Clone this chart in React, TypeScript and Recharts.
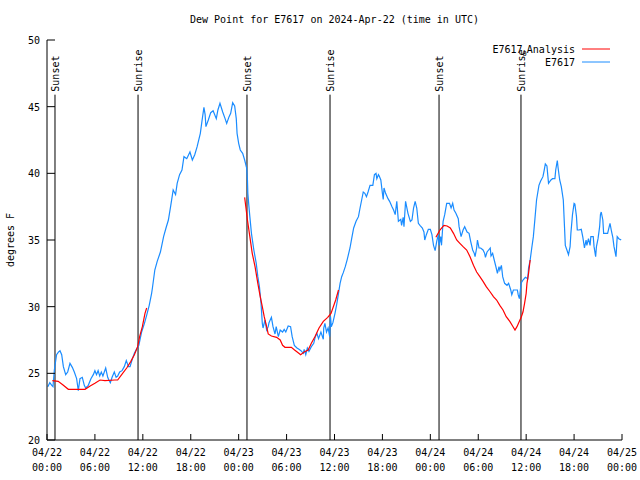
import { Legend, Line, LineChart, ReferenceLine, XAxis, YAxis } from "recharts";

// hours since 2024-04-22 00:00 UTC
const obsHours = [
  0.1, 0.35, 0.6, 0.75, 0.92, 1.2, 1.45, 1.63, 1.84, 2.05, 2.34, 2.59, 2.88, 3.17, 3.42, 3.71, 3.92, 4.13,
  4.42, 4.67, 4.84, 5.17, 5.5, 5.8, 6.0, 6.2, 6.4, 6.6, 6.8, 7.0, 7.35, 7.6, 7.75, 7.93, 8.15, 8.43, 8.65,
  8.85, 9.1, 9.4, 9.68, 9.93, 10.2, 10.4, 10.7, 10.94, 11.2, 11.5, 11.85, 12.2, 12.5, 12.8, 13.1, 13.2,
  13.5, 13.8, 14.2, 14.6, 14.9, 15.2, 15.5, 15.8, 16.1, 16.3, 16.6, 16.9, 17.15, 17.5, 17.9, 18.2, 18.5,
  18.8, 19.2, 19.4, 19.65, 19.8, 19.9, 20.2, 20.5, 20.8, 21.2, 21.4, 21.66, 22.0, 22.3, 22.5, 22.8, 23.0,
  23.25, 23.5, 23.7, 23.8, 24.0, 24.2, 24.5, 24.75, 25.0, 25.1, 25.15, 25.25, 25.4, 25.6, 25.9, 26.2,
  26.4, 26.6, 26.8, 26.96, 27.05, 27.3, 27.5, 27.7, 27.8, 28.1, 28.3, 28.55, 28.7, 28.97, 29.2, 29.5,
  29.7, 29.9, 30.2, 30.5, 30.7, 30.97, 31.3, 31.55, 31.8, 32.1, 32.2, 32.4, 32.6, 32.8, 33.1, 33.4,
  33.6, 33.8, 34.0, 34.3, 34.6, 34.65, 34.8, 35.0, 35.2, 35.4, 35.5, 35.6, 35.8, 36.06, 36.3, 36.5,
  36.7, 36.9, 37.1, 37.35, 37.6, 37.94, 38.15, 38.4, 38.7, 39.0, 39.2, 39.4, 39.6, 39.8, 40.0, 40.2,
  40.45, 40.8, 41.0, 41.2, 41.3, 41.5, 41.6, 41.8, 42.0, 42.1, 42.2, 42.4, 42.7, 42.9, 43.2, 43.4, 43.6,
  43.8, 44.0, 44.3, 44.4, 44.6, 44.7, 44.9, 45.0, 45.2, 45.5, 45.7, 45.9, 46.1, 46.3, 46.5, 46.7, 47.0,
  47.2, 47.3, 47.5, 47.75, 48.0, 48.2, 48.4, 48.6, 48.8, 49.0, 49.1, 49.3, 49.4, 49.6, 49.8, 50.05,
  50.4, 50.6, 50.8, 50.97, 51.2, 51.5, 51.6, 51.85, 52.1, 52.3, 52.6, 52.85, 53.05, 53.3, 53.5, 53.6,
  53.8, 53.9, 54.1, 54.3, 54.6, 54.8, 54.9, 55.1, 55.3, 55.5, 55.6, 55.8, 56.0, 56.25, 56.4, 56.6, 56.7,
  56.9, 57.06, 57.3, 57.6, 57.8, 58.07, 58.2, 58.4, 58.6, 58.9, 59.0, 59.15, 59.3, 59.4, 59.6, 59.9,
  60.2, 60.3, 60.5, 60.7, 60.9, 61.1, 61.3, 61.6, 61.8, 62.1, 62.25, 62.4, 62.6, 62.8, 63.1, 63.3, 63.6,
  63.7, 63.9, 64.0, 64.2, 64.4, 64.65, 64.8, 64.9, 65.1, 65.3, 65.5, 65.6, 65.8, 66.0, 66.1, 66.3, 66.4,
  66.6, 66.9, 67.1, 67.3, 67.5, 67.6, 67.8, 68.0, 68.1, 68.4, 68.5, 68.7, 68.8, 69.0, 69.2, 69.3, 69.4,
  69.6, 69.7, 70.0, 70.2, 70.4, 70.5, 70.7, 70.85, 71.0, 71.25, 71.4, 71.6, 71.9,
];
const obsDewPoint = [
  24.0, 24.3, 24.1, 24.0, 25.25, 26.4, 26.6, 26.7, 26.4, 25.5, 24.9, 25.1, 25.75, 25.45, 25.1, 24.6, 23.7, 24.6,
  24.7, 24.1, 23.9, 24.1, 24.6, 24.9, 25.2, 24.9, 25.2, 24.8, 25.1, 24.8, 25.4, 24.7, 24.5, 24.3, 24.7, 25.1, 24.7,
  24.8, 25.1, 25.2, 25.5, 25.95, 25.5, 25.5, 26.1, 26.5, 26.8, 27.1, 28.1, 28.75, 29.4, 30.1, 31.0, 31.4,
  32.75, 33.4, 34.1, 35.25, 35.9, 36.5, 37.6, 38.75, 38.4, 39.25, 39.9, 40.25, 41.25, 41.1, 41.6, 41.0, 41.4,
  42.0, 43.0, 43.9, 44.95, 44.4, 43.5, 44.0, 44.55, 44.7, 44.1, 44.75, 45.25, 44.6, 44.1, 43.75, 44.25, 44.5,
  45.3, 45.05, 44.1, 43.0, 42.25, 41.75, 41.5, 41.0, 40.4, 39.5, 38.5, 37.75, 36.75, 35.5, 34.25, 33.25,
  32.25, 31.5, 30.25, 28.75, 28.4, 29.0, 28.25, 28.5, 28.8, 29.2, 28.5, 27.95, 28.5, 27.75, 28.25, 28.1,
  28.3, 28.1, 28.55, 28.5, 27.75, 27.1, 26.9, 26.8, 26.7, 26.5, 26.8, 26.4, 26.9, 26.65, 27.0, 27.25,
  27.75, 28.0, 27.6, 28.1, 27.55, 28.4, 28.75, 28.1, 28.4, 27.75, 29.25, 28.5, 28.8, 29.5, 30.25, 31.0,
  31.75, 32.25, 32.55, 33.0, 33.55, 34.4, 35.1, 35.9, 36.4, 36.75, 37.4, 38.0, 38.6, 38.5, 38.25, 38.6,
  39.1, 39.1, 39.9, 40.0, 39.6, 39.9, 39.8, 39.5, 38.5, 38.05, 38.9, 38.5, 38.1, 37.9, 37.5, 37.25, 36.9,
  37.9, 36.4, 36.55, 36.1, 36.7, 36.0, 37.9, 37.6, 37.0, 36.4, 36.5, 37.4, 37.9, 37.4, 36.25, 36.1, 35.9,
  35.6, 35.0, 35.4, 35.8, 35.8, 35.4, 34.6, 34.2, 34.9, 35.4, 34.6, 35.25, 34.6, 36.4, 36.9, 37.75,
  37.75, 37.4, 37.75, 37.25, 37.0, 36.6, 36.0, 35.25, 35.75, 36.0, 35.6, 35.5, 34.9, 34.25, 34.0, 33.75,
  34.4, 35.0, 34.4, 34.4, 34.25, 34.0, 33.7, 34.1, 34.25, 34.4, 33.8, 34.0, 33.5, 32.9, 32.5, 33.0, 32.75,
  33.1, 32.25, 31.75, 31.6, 31.75, 31.25, 30.9, 31.25, 31.25, 31.25, 30.9, 30.6, 31.4, 31.8, 32.0, 32.2,
  32.1, 32.9, 33.5, 34.4, 35.25, 36.6, 38.0, 39.1, 39.4, 39.75, 40.2, 40.7, 40.55, 39.25, 39.5, 39.6, 39.6,
  40.25, 40.95, 40.4, 39.5, 39.0, 38.0, 36.0, 34.6, 34.25, 33.9, 34.5, 35.5, 36.9, 37.75, 37.7, 36.75, 35.75,
  35.75, 35.8, 35.2, 34.4, 35.0, 34.6, 35.1, 34.6, 35.25, 35.25, 34.5, 33.75, 34.5, 35.1, 36.0, 36.9, 37.1,
  36.5, 35.5, 35.5, 35.5, 36.0, 36.25, 35.6, 35.2, 34.5, 33.75, 35.25, 35.1, 35.0,
];

const anaHours = [
  0.67, 1.4, 2.05, 2.67, 4.76, 5.4, 6.0, 6.64, 7.26, 8.5, 8.85, 9.35, 9.98, 10.5, 10.94, 11.35, 11.6,
  11.94, 12.27, 12.48, 18,
  24.75, 25.1, 25.4, 25.7, 26.05, 26.4, 26.7, 26.96, 27.2, 27.5, 27.7, 28.1, 28.75, 29.2, 29.5, 29.8,
  30.6, 31.0, 31.45, 31.76, 32.2, 32.7, 33.1, 33.55, 34.06, 34.6, 35.15, 35.56, 35.8, 36.15, 36.5, 42,
  48.7, 49.2, 49.7, 50.1, 50.5, 50.9, 51.3, 51.7, 52.1, 52.55, 52.97, 53.4, 53.8, 54.2, 54.6, 55.0, 55.5,
  55.9, 56.3, 56.7, 57.1, 57.5, 57.95, 58.3, 58.6, 58.85, 59.15, 59.4, 59.6, 59.8, 60.0, 60.1, 60.3, 60.5,
];
const anaDewPoint = [
  24.45, 24.4, 24.1, 23.8, 23.8, 24.05, 24.25, 24.5, 24.45, 24.5, 24.5, 24.9, 25.4, 25.9, 26.4, 27.0, 27.75,
  28.5, 29.5, 29.9, null,
  38.2, 36.5, 35.25, 34.0, 33.0, 31.75, 30.75, 30.0, 29.25, 28.5, 27.95, 27.8, 27.7, 27.5, 27.1, 26.95,
  26.95, 26.75, 26.55, 26.4, 26.6, 26.75, 27.25, 27.75, 28.4, 28.9, 29.2, 29.5, 29.9, 30.5, 31.25, null,
  35.2, 35.75, 36.1, 36.05, 35.9, 35.5, 35.0, 34.75, 34.5, 34.25, 33.75, 33.1, 32.6, 32.25, 31.9, 31.5, 31.1,
  30.75, 30.5, 30.1, 29.75, 29.25, 28.9, 28.55, 28.25, 28.5, 28.9, 29.25, 29.6, 30.25, 31.0, 31.75, 32.5, 33.5,
];

const sunHours = [1.0, 11.4, 25.04, 35.44, 49.09, 59.35];
const sunLabels = ["Sunset", "Sunrise", "Sunset", "Sunrise", "Sunset", "Sunrise"];

const xTicks = [0, 6, 12, 18, 24, 30, 36, 42, 48, 54, 60, 66, 72];
const xDateLabels = ["04/22", "04/22", "04/22", "04/22", "04/23", "04/23", "04/23", "04/23", "04/24", "04/24", "04/24", "04/24", "04/25"];
const xTimeLabels = ["00:00", "06:00", "12:00", "18:00", "00:00", "06:00", "12:00", "18:00", "00:00", "06:00", "12:00", "18:00", "00:00"];
const yTicks = [20, 25, 30, 35, 40, 45, 50];

const observed = obsHours.map((h, i) => ({ h, dew: obsDewPoint[i] }));
const analysis = anaHours.map((h, i) => ({ h, dew: anaDewPoint[i] }));

const FONT = '"DejaVu Sans Mono", "Liberation Mono", monospace';
const RED = "#ff0000";
const BLUE = "#1a8cff";
const SUN_LINE_TOP = 45.9;

function XTick(props: any) {
  const { x, y, payload } = props;
  const i = xTicks.indexOf(payload.value);
  return (
    <g fontFamily={FONT} fontSize={10} fill="#000">
      <text x={x} y={y + 16} textAnchor="middle">{xDateLabels[i]}</text>
      <text x={x} y={y + 31} textAnchor="middle">{xTimeLabels[i]}</text>
    </g>
  );
}

function YTick(props: any) {
  const { x, y, payload } = props;
  return (
    <text x={x} y={y + 4} textAnchor="end" fontFamily={FONT} fontSize={10} fill="#000">
      {payload.value}
    </text>
  );
}

function SunLabel(props: any) {
  const { viewBox, text } = props;
  if (!viewBox) return null;
  const x = viewBox.x + 4;
  const y = viewBox.y - 3;
  return (
    <text x={x} y={y} transform={`rotate(-90 ${x} ${y})`} fontFamily={FONT} fontSize={10} fill="#000">
      {text}
    </text>
  );
}

function YLabel(props: any) {
  const { viewBox } = props;
  const cy = viewBox ? viewBox.y + viewBox.height / 2 : 240;
  return (
    <text x={14} y={cy} transform={`rotate(-90 14 ${cy})`} textAnchor="middle" fontFamily={FONT} fontSize={10} fill="#000">
      degrees F
    </text>
  );
}

function LegendBox() {
  const rows = [
    { name: <>E7617<tspan fontSize={7} dy={3}>0</tspan><tspan dy={-3}>Analysis</tspan></>, color: RED },
    { name: <>E7617</>, color: BLUE },
  ];
  return (
    <svg width={180} height={30} style={{ display: "block" }}>
      {rows.map((r, i) => (
        <g key={i}>
          <text x={135} y={11 + i * 13} textAnchor="end" fontFamily={FONT} fontSize={10} fill="#000">
            {r.name}
          </text>
          <line x1={142} x2={170} y1={7 + i * 13} y2={7 + i * 13} stroke={r.color} strokeWidth={1} />
        </g>
      ))}
    </svg>
  );
}

export default function App() {
  return (
    <div style={{ position: "relative", width: 640, height: 480, background: "#fff" }}>
      <style>{`body{margin:0;}`}</style>
      <div
        style={{
          position: "absolute",
          top: 14,
          left: 47,
          width: 575,
          textAlign: "center",
          fontFamily: FONT,
          fontSize: 10,
          color: "#000",
        }}
      >
        Dew Point for E7617 on 2024-Apr-22 (time in UTC)
      </div>
      <LineChart width={640} height={480} margin={{ top: 40, right: 18, bottom: 0, left: 0 }}>
        <XAxis
          type="number"
          dataKey="h"
          domain={[0, 72]}
          ticks={xTicks}
          interval={0}
          allowDataOverflow
          height={40}
          tickSize={-6}
          tickMargin={6}
          tick={<XTick />}
          axisLine={{ stroke: "#000" }}
          tickLine={{ stroke: "#000" }}
        />
        <XAxis
          xAxisId="top"
          orientation="top"
          type="number"
          dataKey="h"
          domain={[0, 72]}
          ticks={xTicks}
          interval={0}
          allowDataOverflow
          height={0}
          tickSize={-6}
          tick={false}
          axisLine={{ stroke: "#000" }}
          tickLine={{ stroke: "#000" }}
        />
        <YAxis
          type="number"
          domain={[20, 50]}
          ticks={yTicks}
          interval={0}
          allowDataOverflow
          width={47}
          tickSize={-8}
          tickMargin={15}
          tick={<YTick />}
          axisLine={{ stroke: "#000" }}
          tickLine={{ stroke: "#000" }}
          label={<YLabel />}
        />
        <YAxis
          yAxisId="right"
          orientation="right"
          type="number"
          domain={[20, 50]}
          ticks={yTicks}
          interval={0}
          allowDataOverflow
          width={0}
          tickSize={-8}
          tick={false}
          axisLine={{ stroke: "#000" }}
          tickLine={{ stroke: "#000" }}
        />
        {sunHours.map((h, i) => (
          <ReferenceLine
            key={i}
            segment={[
              { x: h, y: 20 },
              { x: h, y: SUN_LINE_TOP },
            ]}
            stroke="#000"
            strokeWidth={1}
            label={<SunLabel text={sunLabels[i]} />}
          />
        ))}
        <Line
          data={observed}
          dataKey="dew"
          name="E7617"
          type="linear"
          stroke={BLUE}
          strokeWidth={1.2}
          dot={false}
          isAnimationActive={false}
        />
        <Line
          data={analysis}
          dataKey="dew"
          name="E7617_Analysis"
          type="linear"
          stroke={RED}
          strokeWidth={1.2}
          dot={false}
          connectNulls={false}
          isAnimationActive={false}
        />
        <Legend
          layout="horizontal"
          verticalAlign="middle"
          align="center"
          wrapperStyle={{ top: 42, left: 440, width: 180 }}
          content={() => <LegendBox />}
        />
      </LineChart>
    </div>
  );
}
